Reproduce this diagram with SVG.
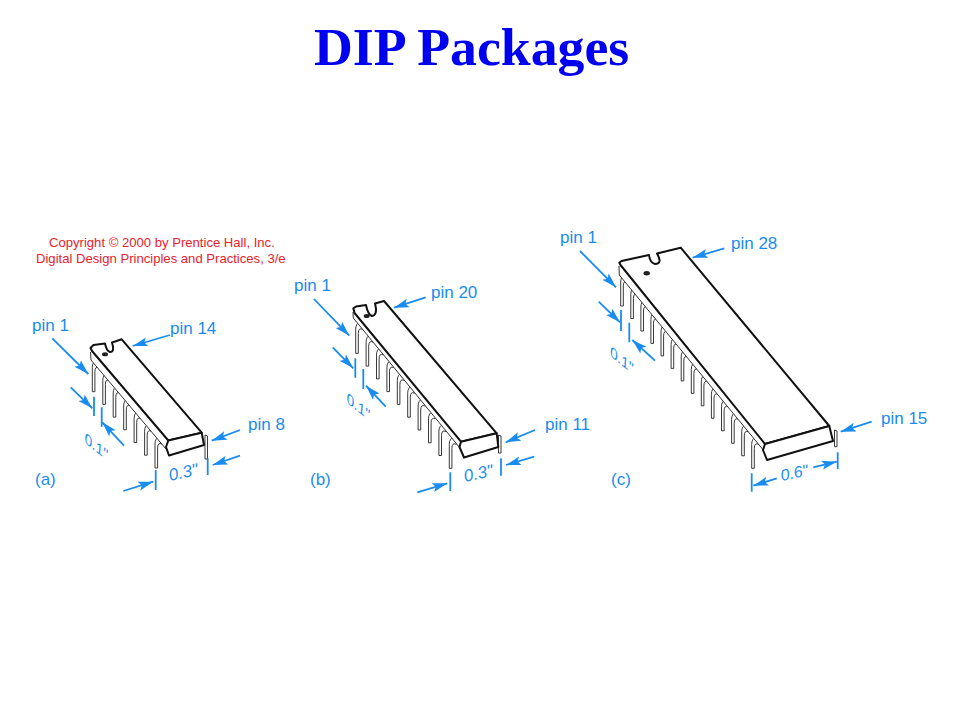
<svg xmlns="http://www.w3.org/2000/svg" width="960" height="720" viewBox="0 0 960 720">
<style>
text{font-family:"Liberation Sans",Arial,sans-serif}
.title{font-family:"Liberation Serif","Times New Roman",serif;font-weight:bold;font-size:53.800px;fill:#0000f0}
.lbl{font-size:17px;fill:#1a8cf0}
.dim{font-size:17px;font-style:italic;fill:#1a8cf0}
.copy{font-size:13.100px;fill:#e8222c}
.face{fill:#fff;stroke:#111;stroke-width:2;stroke-linejoin:round}
.ledge{fill:none;stroke:#333;stroke-width:1}
.pin{fill:#fff;stroke:#222;stroke-width:.9}
.arr{fill:none;stroke:#1a8cf0;stroke-width:1.800;marker-end:url(#h)}
.tick{fill:none;stroke:#1a8cf0;stroke-width:1.800}
</style>
<defs>
<marker id="h" markerUnits="userSpaceOnUse" markerWidth="16" markerHeight="10" refX="15" refY="5" orient="auto"><path d="M0,.5L15,5L0,9.500L3,5Z" fill="#1a8cf0"/></marker>
<path id="p" class="pin" d="M0,0V-24Q0,-30 4.500,-31Q8,-31 9,-26L7,-24Q2.600,-26 2.600,-20V0Z"/>
</defs>
<text class="title" x="314" y="65">DIP Packages</text>
<g id="copyright">
<text class="copy" x="49" y="246.500">Copyright © 2000 by Prentice Hall, Inc.</text>
<text class="copy" x="36" y="262.500">Digital Design Principles and Practices, 3/e</text>
</g>
<g id="chip-a">
<path class="pin" d="M205,435V459H207.500V436Z"/>
<use href="#p" x="92.300" y="391.700"/><use href="#p" x="102.800" y="404.400"/><use href="#p" x="113.200" y="417.100"/><use href="#p" x="123.700" y="429.800"/><use href="#p" x="134.100" y="442.500"/><use href="#p" x="144.600" y="455.200"/><use href="#p" x="155" y="468"/>
<path d="M90.500,350L91,360L166,449L168.300,456L204,445L201.700,432.700L121.700,339.300L105,343.500Z" fill="#fff"/>
<path class="ledge" d="M90.500,352L91,360L166,449"/>
<path class="face" d="M92,351L90.500,348L93.500,345L105,343.500Q106.500,351 110,352Q115,352 112,342.500L121.700,339.300L201.700,432.700L168.300,440.500Z"/>
<path class="face" d="M168.300,440.500L166,447L169,455.500L204,445L201.700,432.700Z"/>
<ellipse cx="105" cy="354.300" rx="3" ry="2" fill="#222"/>
<text class="lbl" x="32" y="331">pin 1</text>
<text class="lbl" x="170" y="334">pin 14</text>
<text class="lbl" x="248" y="429.500">pin 8</text>
<text class="lbl" x="35" y="484.500">(a)</text>
<text class="dim" transform="matrix(.78,.62,.08,1,85,443)">0.1"</text>
<text class="dim" transform="translate(170,481) rotate(-12)">0.3"</text>
</g>
<g id="chip-b">
<path class="pin" d="M498.500,435V453H501V436Z"/>
<use href="#p" x="355.700" y="353.300"/><use href="#p" x="366.100" y="366.100"/><use href="#p" x="376.500" y="378.900"/><use href="#p" x="386.900" y="391.600"/><use href="#p" x="397.300" y="404.400"/><use href="#p" x="407.700" y="417.200"/><use href="#p" x="418.100" y="430"/><use href="#p" x="428.500" y="442.800"/><use href="#p" x="438.900" y="455.500"/><use href="#p" x="449.300" y="468.300"/>
<path d="M353,310L353.300,318L460,448L464,458L498.300,447L496.700,433.300L384,301Z" fill="#fff"/>
<path class="ledge" d="M353,312L353.300,318L460,448"/>
<path class="face" d="M354.500,313L353.300,308.300L356,306.500L366,305Q368,315 372,316Q378,315 375,303.500L384,301L496.700,433.300L461,441.700Z"/>
<path class="face" d="M461,441.700L459.500,447L464,457.500L498.300,447L496.700,433.300Z"/>
<ellipse cx="366.700" cy="316" rx="3" ry="2" fill="#222"/>
<text class="lbl" x="294" y="290.500">pin 1</text>
<text class="lbl" x="431" y="298">pin 20</text>
<text class="lbl" x="545" y="430">pin 11</text>
<text class="lbl" x="310" y="484.500">(b)</text>
<text class="dim" transform="matrix(.78,.62,.08,1,347,403)">0.1"</text>
<text class="dim" transform="translate(465,482) rotate(-12)">0.3"</text>
</g>
<g id="chip-c">
<path class="pin" d="M834.500,430V446.700H837V431Z"/>
<use href="#p" x="620.700" y="306"/><use href="#p" x="630.800" y="318.500"/><use href="#p" x="640.900" y="331"/><use href="#p" x="650.900" y="343.400"/><use href="#p" x="661" y="355.900"/><use href="#p" x="671.100" y="368.400"/><use href="#p" x="681.200" y="380.900"/><use href="#p" x="691.300" y="393.400"/><use href="#p" x="701.300" y="405.800"/><use href="#p" x="711.400" y="418.300"/><use href="#p" x="721.500" y="430.800"/><use href="#p" x="731.600" y="443.300"/><use href="#p" x="741.700" y="455.800"/><use href="#p" x="751.700" y="468.300"/>
<path d="M619,264L619.300,275L763.300,450L766.700,460L832.700,441L829.300,426L680.700,247.700Z" fill="#fff"/>
<path class="ledge" d="M619,266L619.300,275L763.300,450"/>
<path class="face" d="M620.500,265L619.300,262.700L621.500,261L649,255Q650,263 655,264Q663,264 657,253.500L680.700,247.700L829.300,426L765,444Z"/>
<path class="face" d="M765,444L763,450L767,460L833,441L829.300,426Z"/>
<ellipse cx="646.700" cy="273.300" rx="3.200" ry="2.200" fill="#222"/>
<text class="lbl" x="560" y="243">pin 1</text>
<text class="lbl" x="731" y="249">pin 28</text>
<text class="lbl" x="881" y="424">pin 15</text>
<text class="lbl" x="611" y="484.500">(c)</text>
<text class="dim" transform="matrix(.78,.62,.08,1,610.500,356.500)">0.1"</text>
<text class="dim" transform="translate(781.700,481) rotate(-12)" style="font-size:16px">0.6"</text>
</g>
<g id="connectors">
<path class="arr" d="M52.300,338.300L88.300,374"/><path class="arr" d="M170,335L132.700,346"/><path class="arr" d="M240,430L211.700,440.700"/><path class="arr" d="M240,455.700L212.700,465"/><path class="arr" d="M123.300,491L153.300,481.700"/><path class="arr" d="M70.700,387.300L92.300,408.300"/><path class="arr" d="M124,445.700L102.300,422.300"/>
<path class="tick" d="M207.700,458.300V475M155.700,470V490M94,396.700V416M101.700,407.300V426.700"/>
<path class="arr" d="M314,299L349.300,335.700"/><path class="arr" d="M425.700,297.300L394,307.700"/><path class="arr" d="M535,430L505.700,442.300"/><path class="arr" d="M534.300,456.700L506,465"/><path class="arr" d="M417.300,492.300L447.300,483.300"/><path class="arr" d="M332.700,347.300L353.300,368.300"/><path class="arr" d="M385.700,406.700L366,385.700"/>
<path class="tick" d="M501,458.300V475.700M450.300,472.300V491M355.300,358.300V377.700M363.300,369V389"/>
<path class="arr" d="M580,251L616,287.300"/><path class="arr" d="M724.300,248.300L692.700,257.700"/><path class="arr" d="M871.700,421.700L840.700,431.700"/><path class="arr" d="M598.700,301.700L620,322.300"/><path class="arr" d="M655,360.700L632.300,340"/><path class="arr" d="M776.700,478.300L753.300,485.700"/><path class="arr" d="M813.300,467.300L836.700,461.700"/>
<path class="tick" d="M621,310V331M629.300,322.700V342.300M751.700,473.300V491.700M837.700,452.300V469"/>
</g>
</svg>
